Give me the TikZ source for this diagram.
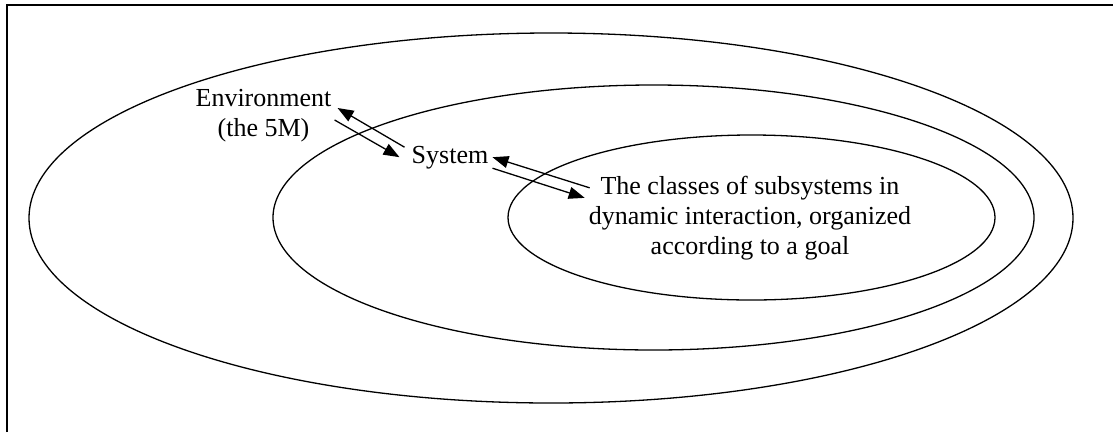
\documentclass[tikz,border=0pt]{standalone}
\usepackage{fontspec}
\setmainfont{Liberation Serif}
\usetikzlibrary{arrows.meta}

\begin{document}
\begin{tikzpicture}[x=1pt,y=-1pt,
    ring/.style={line width=1.3pt,black},
    label/.style={inner sep=0pt,align=center,font=\fontsize{26}{30}\selectfont},
    link/.style={line width=1.3pt,-{Triangle[length=16pt,width=12pt]}}]

    % fix the picture size
    \useasboundingbox (0,0) rectangle (1113,432);

    % frame (top and left side only)
    \draw [line width=2.5pt] (7,432) -- (7,5) -- (1113,5);

    %%%%%%%%%%%%%%%%%%%%%%%%%%
    % nested ellipses
    %%%%%%%%%%%%%%%%%%%%%%%%%%
    \draw [ring] (551,218) ellipse [x radius=522, y radius=185];     % environment
    \draw [ring] (653.5,217.5) ellipse [x radius=380.5, y radius=132.5]; % system
    \draw [ring] (751.5,217.5) ellipse [x radius=243.5, y radius=82.5];  % subsystems

    %%%%%%%%%%%%%%%%%%%%%%%%%%
    % texts
    %%%%%%%%%%%%%%%%%%%%%%%%%%
    \node [label] (env) at (263.5,116) {Environment\\(the 5M)};
    \node [label,anchor=base] (sys) at (450,163) {System};
    \node [label] (cls) at (750,218) {The classes of subsystems in\\dynamic interaction, organized\\according to a goal};

    %%%%%%%%%%%%%%%%%%%%%%%%%%
    % exchanges
    %%%%%%%%%%%%%%%%%%%%%%%%%%
    \draw [link] ([shift={(-7,-10)}]sys.west) -- ([shift={(6,-8)}]env.east);
    \draw [link] ([shift={(3,4)}]env.east) -- ([shift={(-12,0)}]sys.west);
    \draw [link] ([shift={(1,12)}]cls.north west) -- ([shift={(4,0)}]sys.east);
    \draw [link] ([shift={(4,11)}]sys.east) -- ([shift={(-4,22)}]cls.north west);
\end{tikzpicture}
\end{document}
